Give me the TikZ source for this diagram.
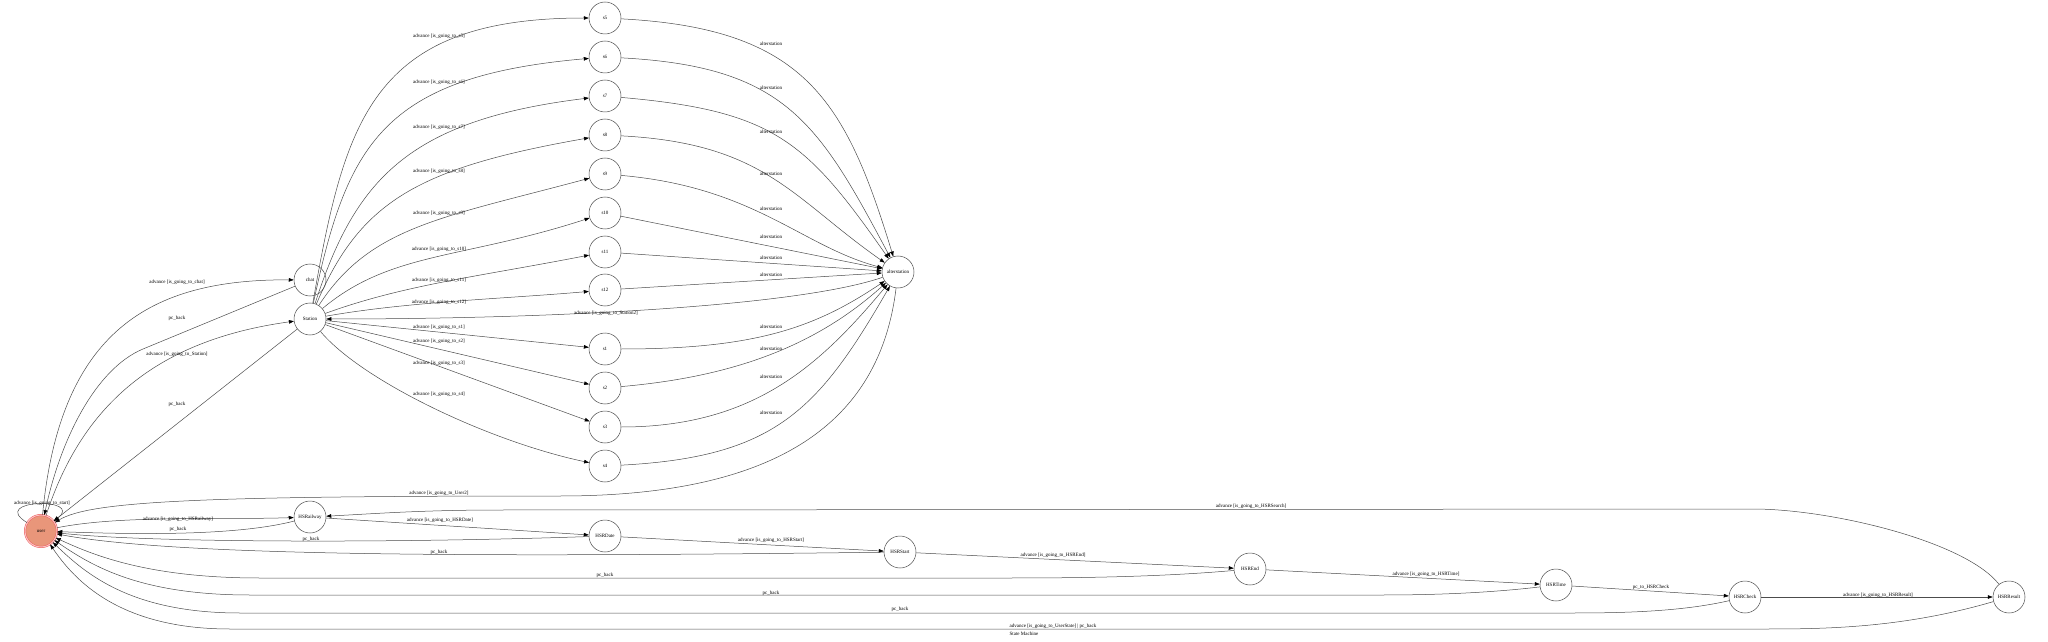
\documentclass[tikz,border=0pt]{standalone}
\usepackage{fontspec}
\setmainfont{Liberation Serif}
\usetikzlibrary{arrows.meta}
\definecolor{salmonfill}{RGB}{233,150,122}
\definecolor{ringred}{RGB}{236,96,96}
\definecolor{ringpink}{RGB}{252,196,196}
\tikzset{
  state/.style={circle,draw=black!70,line width=.5pt,minimum size=32pt,inner sep=0pt,font=\fontsize{5}{6}\selectfont},
  userstate/.style={state,fill=salmonfill,draw=ringred,double=ringpink,double distance=1pt},
  trans/.style={draw=black!70,line width=.5pt,-{Triangle[length=5pt,width=3.6pt,black]}},
  lbl/.style={font=\fontsize{5}{6}\selectfont,inner sep=0pt},
}
\begin{document}
\begin{tikzpicture}[x=1pt,y=1pt]
\useasboundingbox (0,0) rectangle (2048,641);
% states
\node[userstate] (user) at (41,110) {user};
\node[state] (chat) at (310,361) {chat};
\node[state] (Station) at (310,322) {Station};
\node[state] (HSRailway) at (310,124) {HSRailway};
\node[state] (s5) at (605,623) {s5};
\node[state] (s6) at (605,584) {s6};
\node[state] (s7) at (605,545) {s7};
\node[state] (s8) at (605,506) {s8};
\node[state] (s9) at (605,467) {s9};
\node[state] (s10) at (605,428) {s10};
\node[state] (s11) at (605,389) {s11};
\node[state] (s12) at (605,351) {s12};
\node[state] (s1) at (605,292) {s1};
\node[state] (s2) at (605,253) {s2};
\node[state] (s3) at (605,214) {s3};
\node[state] (s4) at (605,175) {s4};
\node[state] (HSRDate) at (605,105) {HSRDate};
\node[state] (alterstation) at (898,369) {alterstation};
\node[state] (HSRStart) at (900,89) {HSRStart};
\node[state] (HSREnd) at (1250,72) {HSREnd};
\node[state] (HSRTime) at (1556,56) {HSRTime};
\node[state] (HSRCheck) at (1745,44) {HSRCheck};
\node[state] (HSRResult) at (2009,44) {HSRResult};
% user, chat, Station
\draw[trans] (user) .. controls (-12,142) and (85,144) .. (user) node[lbl] (t-start) at (42,138) {advance [is\_going\_to\_start]};
\draw[trans] (user) .. controls (60,310) and (150,362) .. (chat) node[lbl] (t-chat) at (177,359) {advance [is\_going\_to\_chat]};
\draw[trans] (chat) -- (143,292) .. controls (95,272) and (60,200) .. (user) node[lbl] (t-chatback) at (177,323) {pc\_back};
\draw[trans] (user) .. controls (80,230) and (150,300) .. (Station) node[lbl] (t-station) at (177,287) {advance [is\_going\_to\_Station]};
\draw[trans] (Station) -- (user) node[lbl] (t-stationback) at (177,237) {pc\_back};
% Station to s1..s12
\draw[trans] (Station) .. controls +(80:200) and +(180:235) .. (s5) node[lbl] (t-s5) at (439,605) {advance [is\_going\_to\_s5]};
\draw[trans] (Station) .. controls +(78:177) and +(185:225) .. (s6) node[lbl] (t-s6) at (439,559) {advance [is\_going\_to\_s6]};
\draw[trans] (Station) .. controls +(72:145) and +(187:200) .. (s7) node[lbl] (t-s7) at (439,514) {advance [is\_going\_to\_s7]};
\draw[trans] (Station) .. controls +(67:128) and +(190:190) .. (s8) node[lbl] (t-s8) at (439,470) {advance [is\_going\_to\_s8]};
\draw[trans] (Station) .. controls +(57:110) and +(195:170) .. (s9) node[lbl] (t-s9) at (439,428) {advance [is\_going\_to\_s9]};
\draw[trans] (Station) .. controls +(40:105) and +(198:150) .. (s10) node[lbl] (t-s10) at (439,392) {advance [is\_going\_to\_s10]};
\draw[trans] (Station) .. controls +(20:100) and +(191:130) .. (s11) node[lbl] (t-s11) at (439,361) {advance [is\_going\_to\_s11]};
\draw[trans] (Station) .. controls +(10:100) and +(185:100) .. (s12) node[lbl] (t-s12) at (439,339) {advance [is\_going\_to\_s12]};
\draw[trans] (Station) -- (s1) node[lbl] (t-s1) at (439,314) {advance [is\_going\_to\_s1]};
\draw[trans] (Station) -- (s2) node[lbl] (t-s2) at (439,300) {advance [is\_going\_to\_s2]};
\draw[trans] (Station) -- (s3) node[lbl] (t-s3) at (439,278) {advance [is\_going\_to\_s3]};
\draw[trans] (Station) .. controls +(310:80) and +(168:120) .. (s4) node[lbl] (t-s4) at (439,247) {advance [is\_going\_to\_s4]};
% s1..s12 to alterstation
\draw[trans] (s5) .. controls +(-3:200) and +(107:180) .. (alterstation) node[lbl] (a-s5) at (771,597) {alterstation};
\draw[trans] (s6) .. controls +(-3:180) and +(118:170) .. (alterstation) node[lbl] (a-s6) at (771,553) {alterstation};
\draw[trans] (s7) .. controls +(-5:170) and +(125:160) .. (alterstation) node[lbl] (a-s7) at (771,509) {alterstation};
\draw[trans] (s8) .. controls +(-3:160) and +(145:130) .. (alterstation) node[lbl] (a-s8) at (771,467) {alterstation};
\draw[trans] (s9) .. controls +(-5:150) and +(165:100) .. (alterstation) node[lbl] (a-s9) at (771,432) {alterstation};
\draw[trans] (s10) -- (alterstation) node[lbl] (a-s10) at (771,404) {alterstation};
\draw[trans] (s11) -- (alterstation) node[lbl] (a-s11) at (771,383) {alterstation};
\draw[trans] (s12) -- (alterstation) node[lbl] (a-s12) at (771,366) {alterstation};
\draw[trans] (s1) .. controls +(0:150) and +(214:100) .. (alterstation) node[lbl] (a-s1) at (771,314) {alterstation};
\draw[trans] (s2) .. controls +(5:130) and +(222:110) .. (alterstation) node[lbl] (a-s2) at (771,292) {alterstation};
\draw[trans] (s3) .. controls +(0:150) and +(230:120) .. (alterstation) node[lbl] (a-s3) at (771,264) {alterstation};
\draw[trans] (s4) .. controls +(3:170) and +(240:160) .. (alterstation) node[lbl] (a-s4) at (771,228) {alterstation};
\draw[trans] (alterstation) .. controls +(199:104) and +(0:250) .. (Station) node[lbl] (t-station2) at (606,328) {advance [is\_going\_to\_Station2]};
\draw[trans] (alterstation) .. controls (880,220) and (780,145) .. (560,145) .. controls (200,145) and (90,140) .. (user) node[lbl] (t-user2) at (439,148) {advance [is\_going\_to\_User2]};
% HSR chain
\draw[trans] (user) .. controls (120,126) and (220,121) .. (HSRailway) node[lbl] (t-hsrailway) at (178,122) {advance [is\_going\_to\_HSRailway]};
\draw[trans] (HSRailway) .. controls (240,106) and (150,106) .. (user) node[lbl] (t-hsrailwayback) at (178,112) {pc\_back};
\draw[trans] (HSRailway) -- (HSRDate) node[lbl] (t-hsrdate) at (440,121) {advance [is\_going\_to\_HSRDate]};
\draw[trans] (HSRDate) .. controls (400,98) and (150,98) .. (user) node[lbl] (t-hsrdateback) at (311,102) {pc\_back};
\draw[trans] (HSRDate) -- (HSRStart) node[lbl] (t-hsrstart) at (771,101) {advance [is\_going\_to\_HSRStart]};
\draw[trans] (HSRStart) .. controls (500,84) and (180,84) .. (user) node[lbl] (t-hsrstartback) at (439,89) {pc\_back};
\draw[trans] (HSRStart) -- (HSREnd) node[lbl] (t-hsrend) at (1053,86) {advance [is\_going\_to\_HSREnd]};
\draw[trans] (HSREnd) .. controls (1150,63) and (1050,63) .. (1000,63) -- (260,63) .. controls (150,63) and (95,85) .. (user) node[lbl] (t-hsrendback) at (605,66) {pc\_back};
\draw[trans] (HSREnd) -- (HSRTime) node[lbl] (t-hsrtime) at (1426,67) {advance [is\_going\_to\_HSRTime]};
\draw[trans] (HSRTime) .. controls (1480,47) and (1420,46) .. (1380,46) -- (250,46) .. controls (140,46) and (92,75) .. (user) node[lbl] (t-hsrtimeback) at (771,48) {pc\_back};
\draw[trans] (HSRTime) -- (HSRCheck) node[lbl] (t-hsrcheck) at (1651,54) {pc\_to\_HSRCheck};
\draw[trans] (HSRCheck) .. controls (1680,29) and (1620,28) .. (1570,28) -- (240,28) .. controls (130,28) and (85,68) .. (user) node[lbl] (t-hsrcheckback) at (900,32) {pc\_back};
\draw[trans] (HSRCheck) -- (HSRResult) node[lbl] (t-hsrresult) at (1878,46) {advance [is\_going\_to\_HSRResult]};
\draw[trans] (HSRResult) .. controls (1900,12) and (1820,12) .. (1760,12) -- (230,12) .. controls (120,12) and (75,60) .. (user) node[lbl] (t-hsrresultback) at (1053,15) {advance [is\_going\_to\_UserState] | pc\_back};
\draw[trans] (HSRResult) .. controls (1965,100) and (1830,132) .. (1753,132) -- (500,131) .. controls (420,131) and (370,127) .. (HSRailway) node[lbl] (t-hsrsearch) at (1251,135) {advance [is\_going\_to\_HSRSearch]};
\node[lbl] (title) at (1024,7) {State Machine};
\end{tikzpicture}
\end{document}
